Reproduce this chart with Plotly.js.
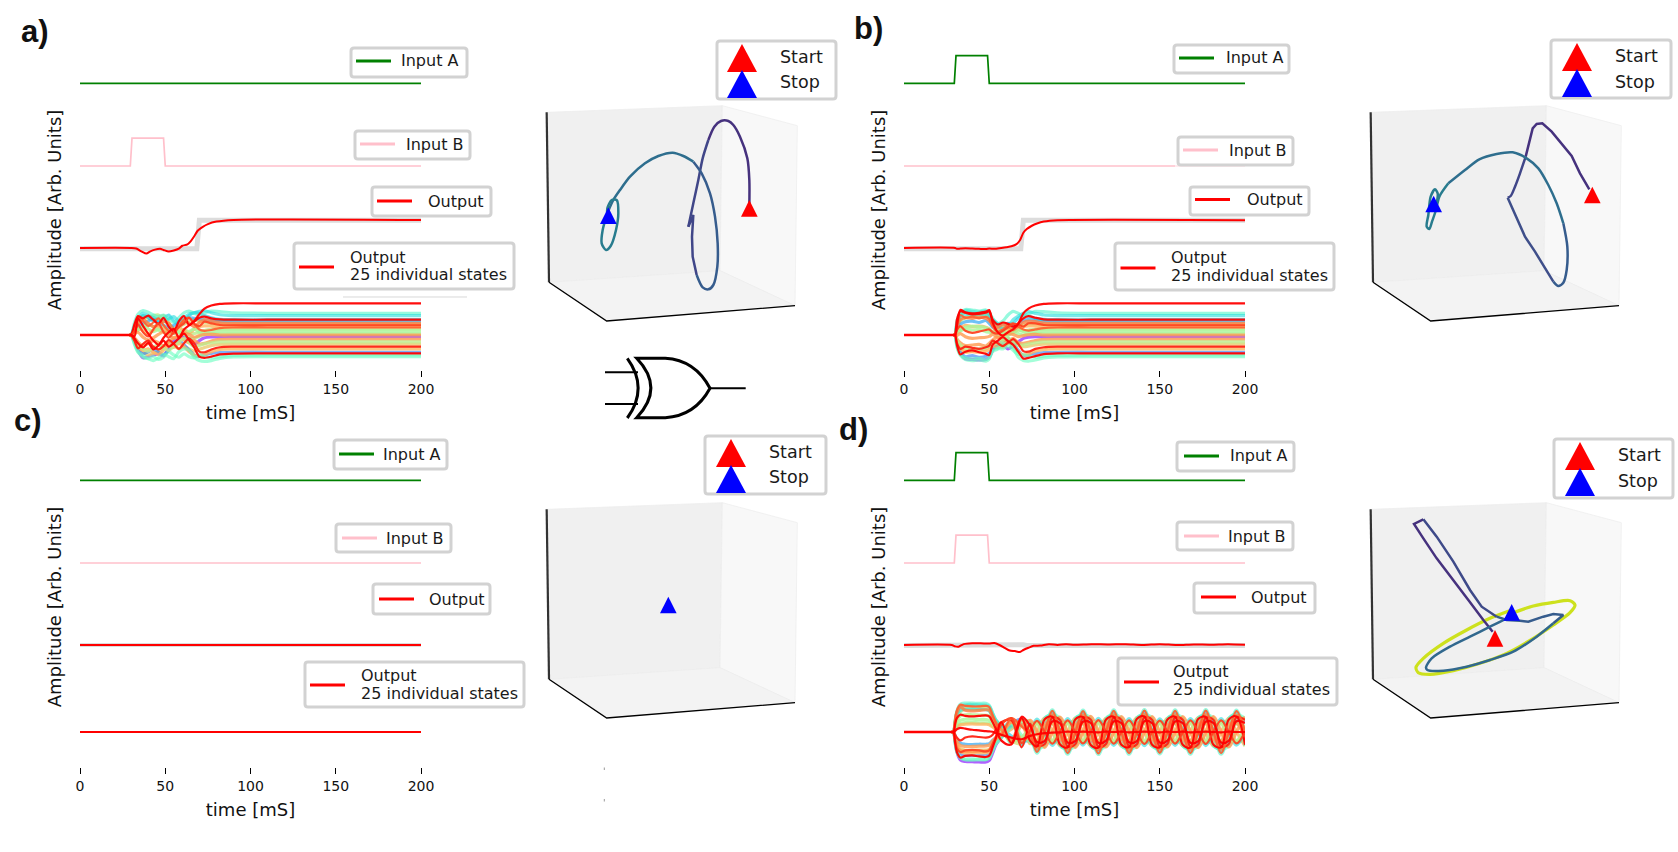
<!DOCTYPE html>
<html><head><meta charset="utf-8">
<script src="https://cdn.plot.ly/plotly-3.0.1.min.js"></script>
<style>html,body{margin:0;padding:0;background:#fff}</style></head>
<body><div id="chart" style="width:1678px;height:852px"></div>
<script>
// ---------- time grids ----------
const pulseT=[0,29.5,30.5,49,50,200];
const pulseOn=[0,0,1,1,0,0];
const flatT=[0,200];
const flatV=[0,0];
const outAT=[0,30,33,36,39,41,44,47,49,52,55,58,60,63,65,67,69,72,75,80,90,200];
const outAV=[0,0,-.02,-.12,-.2,-.13,-.06,-.03,-.07,-.13,-.09,-.02,.08,.13,.25,.42,.62,.76,.86,.95,1.01,1.01];
const outBT=[0,30,31,33,36,40,44,48,50,53,56,60,63,66,68,70,72,75,78,82,90,200];
const outBV=[0,0,-.03,-.02,-.01,-.02,-.03,-.04,-.02,-.03,-.01,.03,.06,.14,.28,.55,.68,.8,.88,.95,1,1];
const outDT=[0,28,30,32,35,40,45,50,53,56,59,62,65,68,70,73,76,80,85,90,95,100,110,120,130,140,150,160,170,180,190,200];
const outDV=[0,0,-.05,-.06,.03,.06,.06,.05,.07,0,-.1,-.2,-.22,-.25,-.18,-.1,-.03,-.02,.03,0,.03,.01,.03,.02,.03,0,.03,0,.02,.01,.03,.01];
const targetHighT=[0,30,68.5,70,200];
const targetHighV=[-.03,-.03,-.03,1,1];
const targetLowT=[0,30,50,70,72,200];
const targetLowV=[0,.03,.03,.03,0,0];

const stateTA=[29,30,32,34,37,40,43,46,49,52,55,58,61,64,67,70,73,77,82,90,110,200];
const stateA00=[0,0,-.2,-.55,-.82,-.78,-.72,-.68,-.75,-.5,-.2,-.1,-.05,-.25,-.35,-.2,-.1,-.07,-.06,-.06,-.06,-.06];
const stateA01=[0,0,.2,.4,.58,.64,.7,.72,.52,.4,.25,.15,.2,.1,.05,.1,.16,.2,.22,.22,.22,.22];
const stateA02=[0,0,-.18,-.4,-.6,-.72,-.66,-.6,-.45,-.3,-.38,-.5,-.42,-.5,-.58,-.52,-.45,-.38,-.34,-.33,-.33,-.33];
const stateA03=[0,0,.22,.5,.68,.6,.55,.62,.7,.45,.2,.3,.38,.5,.55,.5,.46,.42,.39,.38,.38,.38];
const stateA04=[0,0,.15,.3,.42,.5,.58,.45,.35,.25,.35,.48,.55,.62,.6,.58,.55,.52,.5,.5,.5,.5];
const stateA05=[0,0,-.25,-.5,-.68,-.6,-.52,-.62,-.7,-.55,-.3,-.2,-.35,-.55,-.72,-.78,-.72,-.66,-.63,-.62,-.62,-.62];
const stateA06=[0,0,.1,.18,.3,.22,.12,.2,.28,.15,.05,.1,.02,-.1,-.12,-.05,.02,.05,.05,.05,.05,.05];
const stateA07=[0,0,.3,.55,.7,.64,.5,.46,.6,.72,.5,.35,.48,.7,.8,.78,.7,.62,.56,.55,.55,.55];
const stateA08=[0,0,-.2,-.42,-.55,-.5,-.62,-.7,-.55,-.38,-.45,-.3,-.42,-.6,-.72,-.76,-.7,-.6,-.52,-.5,-.5,-.5];
const stateA09=[0,0,.12,.25,.15,.05,.18,.3,.22,.1,.18,.28,.15,.08,.2,.3,.33,.32,.3,.3,.3,.3];
const stateA10=[0,0,.45,.75,.88,.82,.72,.66,.72,.6,.45,.62,.8,.86,.78,.72,.8,.86,.84,.8,.78,.78];
const stateA11=[0,0,-.3,-.6,-.8,-.84,-.78,-.88,-.8,-.6,-.72,-.8,-.68,-.78,-.82,-.7,-.78,-.82,-.78,-.73,-.72,-.72];
const stateA12=[0,0,.32,.58,.78,.7,.62,.55,.48,.58,.66,.5,.62,.76,.8,.85,.88,.8,.73,.7,.7,.7];
const stateA13=[0,0,-.35,-.62,-.75,-.86,-.92,-.82,-.7,-.78,-.85,-.6,-.5,-.55,-.8,-.92,-.95,-.92,-.84,-.79,-.78,-.78];
const stateA14=[0,0,.08,.2,.3,.38,.3,.18,.12,.05,.2,.1,.02,.12,.22,.1,.08,.12,.15,.15,.15,.15];
const stateA15=[0,0,-.1,-.25,-.4,-.3,-.2,-.28,-.38,-.25,-.1,-.05,-.18,-.28,-.2,-.32,-.3,-.22,-.16,-.15,-.15,-.15];
const stateA16=[0,0,-.15,-.32,-.5,-.58,-.45,-.35,-.48,-.55,-.4,-.25,-.12,-.28,-.42,-.38,-.32,-.28,-.25,-.25,-.25,-.25];
const stateA17=[0,0,.05,.1,-.08,-.18,-.1,.02,.12,.02,-.12,-.05,.08,.02,-.08,-.02,.02,.02,0,0,0,0];
const stateA18=[0,0,.2,.42,.55,.42,.3,.38,.5,.42,.2,.32,.52,.42,.3,.45,.55,.5,.44,.42,.42,.42];
const stateA19=[0,0,-.22,-.48,-.32,-.2,-.42,-.52,-.4,-.18,-.32,-.5,-.3,-.12,-.3,-.6,-.62,-.52,-.44,-.42,-.42,-.42];
const stateA20=[0,0,.25,.65,.5,.32,.45,.6,.35,.15,.05,.3,.55,.62,.4,.2,.15,.18,.25,.27,.27,.27];
const stateA21=[0,0,.4,.68,.6,.7,.55,.4,.62,.3,.12,.5,.68,.35,.48,.62,.66,.6,.56,.55,.55,.55];
const stateA22=[0,0,.15,.38,.1,-.05,.2,.42,.1,-.1,.1,.28,.42,.62,.4,.32,.48,.42,.36,.35,.35,.35];
const stateA23=[0,0,-.12,-.3,-.45,-.28,-.52,-.38,-.2,-.42,-.3,-.12,.05,-.18,-.45,-.78,-.82,-.78,-.7,-.67,-.66,-.66];
const stateA24=[0,0,-.05,.6,.32,.05,-.2,-.35,-.1,.1,.22,-.1,.2,.35,.5,.75,.95,1.06,1.12,1.14,1.14,1.14];

const stateTB=[29,30,31,33,36,40,44,48,50,52,55,58,61,64,67,70,73,77,82,90,110,200];
const stateB00=[0,0,-.3,-.65,-.86,-.88,-.9,-.88,-.8,-.55,-.25,-.35,-.5,-.4,-.25,-.12,-.08,-.06,-.06,-.06,-.06,-.06];
const stateB01=[0,0,.25,.5,.62,.7,.68,.72,.6,.4,.2,.1,.05,.12,.18,.15,.18,.2,.22,.22,.22,.22];
const stateB02=[0,0,-.2,-.45,-.62,-.58,-.55,-.5,-.42,-.3,-.38,-.45,-.3,-.2,-.3,-.42,-.4,-.36,-.33,-.33,-.33,-.33];
const stateB03=[0,0,.4,.7,.82,.78,.74,.8,.7,.5,.25,.1,.2,.3,.32,.35,.4,.4,.38,.38,.38,.38];
const stateB04=[0,0,.2,.38,.48,.5,.45,.52,.42,.28,.2,.34,.42,.3,.38,.52,.55,.53,.5,.5,.5,.5];
const stateB05=[0,0,-.32,-.6,-.78,-.74,-.8,-.76,-.65,-.52,-.38,-.22,-.12,-.3,-.55,-.75,-.72,-.66,-.63,-.62,-.62,-.62];
const stateB06=[0,0,.08,.15,.22,.18,.2,.12,.1,.08,.02,-.08,-.02,.1,.05,0,.03,.05,.05,.05,.05,.05];
const stateB07=[0,0,.4,.72,.88,.85,.82,.86,.74,.55,.42,.28,.38,.42,.6,.7,.68,.6,.56,.55,.55,.55];
const stateB08=[0,0,-.25,-.5,-.58,-.6,-.62,-.58,-.52,-.4,-.45,-.32,-.28,-.4,-.6,-.72,-.68,-.58,-.52,-.5,-.5,-.5];
const stateB09=[0,0,.12,.25,.35,.3,.32,.28,.22,.12,.2,.3,.22,.12,.2,.3,.33,.32,.3,.3,.3,.3];
const stateB10=[0,0,.5,.78,.92,.9,.86,.9,.82,.6,.4,.5,.72,.85,.78,.68,.76,.85,.84,.8,.78,.78];
const stateB11=[0,0,-.4,-.72,-.88,-.92,-.9,-.94,-.86,-.55,-.48,-.5,-.4,-.55,-.7,-.7,-.76,-.8,-.76,-.73,-.72,-.72];
const stateB12=[0,0,.35,.62,.72,.76,.74,.7,.62,.5,.35,.22,.32,.55,.68,.78,.84,.78,.72,.7,.7,.7];
const stateB13=[0,0,-.42,-.7,-.82,-.86,-.84,-.88,-.8,-.6,-.5,-.3,-.22,-.45,-.8,-.92,-.94,-.9,-.82,-.79,-.78,-.78];
const stateB14=[0,0,.1,.18,.28,.32,.3,.26,.2,.1,.14,.06,.02,.1,.18,.12,.1,.12,.15,.15,.15,.15];
const stateB15=[0,0,-.14,-.28,-.38,-.36,-.34,-.4,-.3,-.18,-.08,-.16,-.24,-.12,-.28,-.3,-.26,-.2,-.16,-.15,-.15,-.15];
const stateB16=[0,0,-.18,-.35,-.48,-.52,-.5,-.46,-.38,-.25,-.32,-.18,-.1,-.25,-.38,-.36,-.32,-.28,-.25,-.25,-.25,-.25];
const stateB17=[0,0,-.02,.05,-.06,-.12,-.1,-.08,-.05,.02,-.08,-.02,.05,.02,-.06,-.02,.01,.02,0,0,0,0];
const stateB18=[0,0,.3,.55,.62,.6,.64,.6,.52,.38,.28,.4,.32,.18,.32,.45,.5,.48,.43,.42,.42,.42];
const stateB19=[0,0,-.28,-.5,-.42,-.46,-.5,-.44,-.38,-.2,-.3,-.4,-.28,-.15,-.32,-.58,-.6,-.5,-.44,-.42,-.42,-.42];
const stateB20=[0,0,.35,.72,.62,.66,.6,.65,.58,.3,.12,.2,.35,.42,.3,.2,.16,.2,.25,.27,.27,.27];
const stateB21=[0,0,.55,.85,.8,.74,.76,.8,.85,.55,.38,.45,.4,.3,.42,.6,.68,.62,.56,.55,.55,.55];
const stateB22=[0,0,.18,.32,.15,.08,.12,.18,.2,.1,.05,.15,.28,.4,.38,.3,.42,.42,.36,.35,.35,.35];
const stateB23=[0,0,-.35,-.7,-.6,-.55,-.62,-.68,-.72,-.35,-.2,-.08,-.22,-.35,-.6,-.85,-.82,-.76,-.69,-.66,-.66,-.66];
const stateB24=[0,0,.3,.9,.82,.78,.8,.84,.9,.45,.1,-.02,.1,.2,.4,.78,.95,1.06,1.12,1.14,1.14,1.14];

const stateTD=[28,29,30,31,33,36,40,44,48,50,52,54,57,63,69,74,78,82.5,87,91.5,96,100.5,105,109.5,114,118.5,123,127.5,132,136.5,141,145.5,150,154.5,159,163.5,168,172.5,177,181.5,186,190.5,195,200];
const stateD00=[0,0,-.35,-.7,-1,-1.06,-1.07,-1.08,-1.08,-1.02,-.75,-.45,-.2,.2,.35,-.25,-.4,.33,.4,-.32,-.41,.33,.4,-.33,-.39,.34,.41,-.33,-.4,.32,.4,-.33,-.41,.33,.39,-.34,-.4,.33,.41,-.32,-.4,.33,.4,-.32];
const stateD01=[0,0,.25,.5,.72,.85,.85,.84,.84,.8,.55,.3,.1,-.25,-.3,-.22,.34,.29,-.35,-.28,.35,.3,-.34,-.29,.36,.29,-.35,-.3,.34,.28,-.36,-.29,.35,.3,-.35,-.29,.34,.28,-.35,-.3,.36,.29,-.35,-.28];
const stateD02=[0,0,-.2,-.45,-.6,-.66,-.66,-.65,-.65,-.62,-.42,-.3,-.12,.25,.38,-.1,-.52,.02,.55,-.01,-.55,.02,.54,0,-.56,-.02,.55,.01,-.55,.02,.56,0,-.54,-.01,.55,.02,-.55,0,.56,-.02,-.55,.01,.54,.01];
const stateD03=[0,0,.3,.6,.88,.95,.95,.94,.93,.88,.6,.4,.2,-.3,-.42,.3,-.5,-.45,.54,.44,-.54,-.45,.53,.46,-.55,-.44,.54,.45,-.53,-.46,.55,.45,-.54,-.44,.54,.45,-.55,-.46,.53,.45,-.54,-.44,.55,.45];
const stateD04=[0,0,-.12,-.28,-.4,-.44,-.45,-.44,-.44,-.42,-.3,-.2,-.1,.2,.3,-.1,-.68,.02,.72,-.02,-.72,.01,.71,-.02,-.73,.02,.72,0,-.72,-.01,.73,.02,-.71,-.02,.72,.01,-.72,-.02,.73,.02,-.72,0,.71,-.02];
const stateD05=[0,0,-.3,-.55,-.78,-.84,-.85,-.84,-.85,-.8,-.55,-.35,-.15,.3,.45,.25,-.44,-.38,.46,.37,-.46,-.38,.45,.39,-.47,-.37,.46,.38,-.45,-.39,.47,.38,-.46,-.37,.46,.38,-.47,-.39,.45,.38,-.46,-.37,.47,.38];
const stateD06=[0,0,.1,.22,.3,.34,.34,.33,.33,.31,.22,.15,.05,.3,-.2,.05,.33,0,-.35,.01,.35,-.01,-.34,0,.36,.01,-.35,0,.35,-.01,-.36,0,.34,.01,-.35,-.01,.35,0,-.36,.01,.35,0,-.34,0];
const stateD07=[0,0,.35,.7,.92,.98,.99,.98,.97,.92,.66,.42,.2,-.15,-.3,-.35,-.55,.49,.58,-.48,-.58,.49,.57,-.5,-.59,.48,.58,-.49,-.57,.5,.59,-.49,-.58,.48,.58,-.49,-.59,.5,.57,-.49,-.58,.48,.59,-.49];
const stateD08=[0,0,-.25,-.5,-.7,-.76,-.76,-.75,-.75,-.72,-.5,-.3,-.1,.1,.4,-.42,0,.5,.01,-.48,-.01,.5,0,-.5,.01,.49,-.01,-.5,0,.51,.01,-.5,-.01,.49,0,-.5,.01,.51,-.01,-.5,0,.49,.01,-.5];
const stateD09=[0,0,.08,.18,.26,.28,.29,.28,.28,.26,.18,.1,.3,-.4,.2,-.32,-.47,.42,.5,-.41,-.5,.42,.49,-.43,-.51,.41,.5,-.42,-.49,.43,.51,-.42,-.5,.41,.5,-.42,-.51,.43,.49,-.42,-.5,.41,.51,-.42];
const stateD10=[0,0,.4,.75,1,1.04,1.04,1.03,1.03,.96,.68,.42,.25,-.4,.3,-.1,-.76,.02,.8,-.01,-.8,0,.79,.02,-.81,-.01,.8,.01,-.8,0,.81,-.02,-.79,.01,.8,0,-.8,.02,.81,-.01,-.8,0,.79,.01];
const stateD11=[0,0,-.38,-.7,-.92,-.98,-.98,-.97,-.98,-.92,-.65,-.42,-.22,.18,.42,.35,-.56,-.5,.6,.49,-.6,-.5,.59,.51,-.61,-.49,.6,.5,-.59,-.51,.61,.5,-.6,-.49,.6,.5,-.61,-.51,.59,.5,-.6,-.49,.61,.5];
const stateD12=[0,0,.32,.62,.78,.82,.82,.81,.8,.75,.52,.3,.12,.38,-.45,.05,.46,.02,-.48,-.01,.48,0,-.47,.02,.49,-.01,-.48,.01,.48,0,-.49,-.02,.47,.01,-.48,0,.48,.02,-.49,-.01,.48,0,-.47,.01];
const stateD13=[0,0,-.4,-.72,-.94,-1,-1.01,-1,-1,-.94,-.68,-.42,-.22,.32,-.12,-.35,-.56,.5,.6,-.49,-.6,.5,.59,-.51,-.61,.49,.6,-.5,-.59,.51,.61,-.5,-.6,.49,.6,-.5,-.61,.51,.59,-.5,-.6,.49,.61,-.5];
const stateD14=[0,0,.15,.3,.42,.46,.46,.45,.45,.42,.3,.18,.08,-.35,.4,-.05,-.29,0,.3,.01,-.3,-.01,.29,0,-.31,.01,.3,0,-.3,-.01,.31,0,-.29,.01,.3,-.01,-.3,0,.31,.01,-.3,0,.29,0];
const stateD15=[0,0,-.18,-.34,-.48,-.52,-.52,-.51,-.5,-.47,-.32,-.2,-.08,.35,.25,.42,.01,-.55,0,.54,-.01,-.55,.01,.56,0,-.54,-.01,.55,.01,-.56,0,.55,-.01,-.54,0,.55,.01,-.56,-.01,.55,0,-.54,.01,.55];
const stateD16=[0,0,.22,.42,.58,.62,.62,.61,.6,.57,.4,.22,.1,-.32,-.2,.18,.3,-.26,-.31,.25,.31,-.26,-.3,.27,.32,-.25,-.31,.26,.3,-.27,-.32,.26,.31,-.25,-.31,.26,.32,-.27,-.3,.26,.31,-.25,-.32,.26];
const stateD17=[0,0,-.28,-.52,-.66,-.7,-.7,-.69,-.69,-.65,-.45,-.25,-.1,.38,-.3,-.18,-.3,.26,.31,-.25,-.31,.26,.3,-.27,-.32,.25,.31,-.26,-.3,.27,.32,-.26,-.31,.25,.31,-.26,-.32,.27,.3,-.26,-.31,.25,.32,-.26];
const stateD18=[0,0,.38,.7,.9,.78,.76,.78,.8,.78,.55,.32,.1,-.3,.45,-.08,-.58,.02,.62,-.01,-.62,0,.61,.02,-.63,-.01,.62,.01,-.62,0,.63,-.02,-.61,.01,.62,0,-.62,.02,.63,-.01,-.62,0,.61,.01];
const stateD19=[0,0,-.1,-.2,-.3,-.2,-.16,-.18,-.2,-.18,-.1,.1,.35,.42,-.55,.3,-.48,-.44,.52,.43,-.52,-.44,.51,.45,-.53,-.43,.52,.44,-.51,-.45,.53,.44,-.52,-.43,.52,.44,-.53,-.45,.51,.44,-.52,-.43,.53,.44];
const stateD20=[0,0,.42,.78,.98,.94,.92,.92,.94,.9,.6,.3,-.1,.5,.2,-.1,-.72,0,.76,.01,-.76,-.01,.75,0,-.77,.01,.76,0,-.76,-.01,.77,0,-.75,.01,.76,-.01,-.76,0,.77,.01,-.76,0,.75,0];
const stateD21=[0,0,.3,.5,.62,.58,.56,.58,.6,.56,.35,.1,-.3,-.45,.5,-.32,-.52,.46,.55,-.45,-.55,.46,.54,-.47,-.56,.45,.55,-.46,-.54,.47,.56,-.46,-.55,.45,.55,-.46,-.56,.47,.54,-.46,-.55,.45,.56,-.46];
const stateD22=[0,0,-.3,-.58,-.72,-.66,-.64,-.66,-.7,-.66,-.42,-.15,.25,.5,-.4,.05,.4,0,-.42,.01,.42,-.01,-.41,0,.43,.01,-.42,0,.42,-.01,-.43,0,.41,.01,-.42,-.01,.42,0,-.43,.01,.42,0,-.41,0];
const stateD23=[0,0,-.4,-.72,-.92,-.86,-.84,-.88,-.9,-.85,-.55,-.2,.35,-.4,.55,.22,-.36,-.32,.38,.31,-.38,-.32,.37,.33,-.39,-.31,.38,.32,-.37,-.33,.39,.32,-.38,-.31,.38,.32,-.39,-.33,.37,.32,-.38,-.31,.39,.32];
const stateD24=[0,0,.04,.1,.15,.12,.08,.06,.03,.02,.01,-.04,-.1,-.2,-.26,-.14,-.08,-.04,-.02,-.01,.01,0,.01,0,-.01,.01,0,.01,-.01,0,.01,0,-.01,.01,0,.01,-.01,0,.01,0,-.01,.01,0,0];

const statesA=[stateA00,stateA01,stateA02,stateA03,stateA04,stateA05,stateA06,stateA07,stateA08,stateA09,stateA10,stateA11,stateA12,stateA13,stateA14,stateA15,stateA16,stateA17,stateA18,stateA19,stateA20,stateA21,stateA22,stateA23,stateA24];
const statesB=[stateB00,stateB01,stateB02,stateB03,stateB04,stateB05,stateB06,stateB07,stateB08,stateB09,stateB10,stateB11,stateB12,stateB13,stateB14,stateB15,stateB16,stateB17,stateB18,stateB19,stateB20,stateB21,stateB22,stateB23,stateB24];
const statesD=[stateD00,stateD01,stateD02,stateD03,stateD04,stateD05,stateD06,stateD07,stateD08,stateD09,stateD10,stateD11,stateD12,stateD13,stateD14,stateD15,stateD16,stateD17,stateD18,stateD19,stateD20,stateD21,stateD22,stateD23,stateD24];
// rainbow colormap position of each state's colour
const stateHue=[0,15,17,16,5,4,14,7,18,18,10,11,8,11,14,19,15,19,20,23,21,24,22,24,24];

// ---------- state-space trajectories (projected picture coordinates) ----------
const boxLeftX=[80,87,600,607], boxLeftY=[247,757,722,227];
const boxRightX=[607,600,825,832], boxRightY=[227,722,827,287];
const boxFloorX=[87,600,825,260], boxFloorY=[757,722,827,873];
const spineX=[80,87,260,825], spineY=[247,757,873,827];

const trajAX=[688,688,682,660,640,625,603,583,565,548,535,520,505,520,516,518,530,548,565,580,592,593,585,570,545,520,490,458,415,375,330,300,280,262,248,245,258,272,288,295,290,275,262,262];
const trajAY=[530,450,385,320,285,273,273,290,330,385,450,520,590,555,620,680,735,772,778,765,710,640,560,490,430,395,378,368,378,400,440,480,510,550,600,640,660,648,600,550,510,510,535,555];
const trajABreaks=[[0,8,'#46327e','spline'],[8,12,'#404688','spline'],[12,16,'#404688','linear'],[16,25,'#365c8d','spline'],[25,33,'#2e6e8e','spline'],[33,43,'#287c8e','spline']];
const trajBX=[748,720,695,665,635,607,590,578,570,557,540,525,512,503,515,535,555,585,615,640,655,670,680,682,670,650,625,595,560,518,470,418,375,325,298,288,276,268,260,265,272,285,293,290];
const trajBY=[478,430,378,340,305,280,282,295,330,380,430,470,498,503,530,575,620,665,715,755,768,758,720,650,580,520,465,415,385,367,372,388,420,460,500,540,575,597,590,555,500,478,490,520];
const trajBBreaks=[[0,9,'#46327e','linear'],[9,13,'#404688','spline'],[13,19,'#3f4f8a','linear'],[19,24,'#365c8d','spline'],[24,33,'#2e6e8e','spline'],[33,43,'#287c8e','spline']];
const trajDX=[458,430,385,340,290,250,222,250,290,340,390,425,470,500,540,565,610,640,670,
  640,590,520,450,380,310,262,258,275,330,390,450,500,
  520,580,640,690,705,690,640,580,500,420,340,270,235,228,250,310,380,450,515];
const trajDY=[605,570,510,450,385,325,282,268,320,395,480,530,560,570,572,575,560,552,555,
  580,620,665,690,710,722,720,712,685,650,620,590,565,
  548,528,517,512,525,548,585,625,670,700,722,733,728,712,685,640,600,565,540];
const trajDBreaks=[[32,50,'#cde11d','spline'],[0,7,'#46327e','linear'],[7,12,'#3e4a89','linear'],[12,19,'#365c8d','linear'],[19,32,'#31688e','spline']];
const startAX=688,startAY=560,stopAX=265,stopAY=582;
const startBX=757,startBY=520,stopBX=281,stopBY=547;
const stopCX=445,stopCY=550;
const startDX=465,startDY=650,stopDX=515,stopDY=572;

// ---------- texts ----------
const tickVals=[0,50,100,150,200];
const xLabel='time [mS]', yLabel='Amplitude [Arb. Units]';

// ---------- layout helpers ----------
const W=1678,H=852;
const fx=p=>p/W, fy=p=>1-p/H;
const offsetA=9.05,offsetB=6.08,offsetOut=3.13;
const shift=(a,o)=>a.map(v=>v+o);
const rainbow=h=>{
  const x=h/24,r=Math.abs(2*x-.5),g=Math.sin(Math.PI*x),b=Math.cos(Math.PI*x/2);
  const al=h>=21?.95:(h>=14?.82:.62);
  return `rgba(${Math.round(255*Math.min(r,1))},${Math.round(255*g)},${Math.round(255*b)},${al})`;};

const panels=[
 {id:'',  left:80,  top:50,  frame:{l:540,t:95,dx:0,dy:0}},
 {id:'2', left:904, top:50,  frame:{l:1364,t:95,dx:12,dy:0}},
 {id:'3', left:80,  top:447, frame:{l:540,t:492,dx:0,dy:-9}},
 {id:'4', left:904, top:447, frame:{l:1364,t:492,dx:12,dy:-9}},
];
const plotW=341, plotH=320, unit=27.8, baseFromBottom=35;
const layout={width:W,height:H,margin:{l:0,r:0,t:0,b:0},paper_bgcolor:'#fff',plot_bgcolor:'rgba(0,0,0,0)',showlegend:false,shapes:[],annotations:[]};
const data=[];
panels.forEach((p,i)=>{
  const xa='xaxis'+p.id, ya='yaxis'+p.id;
  const bottom=p.top+plotH;
  layout[xa]={domain:[fx(p.left),fx(p.left+plotW)],range:[0,200],anchor:'y'+p.id,showgrid:false,zeroline:false,showline:false,
    ticks:'outside',ticklen:6,tickwidth:1,tickcolor:'#000',tickvals:tickVals,ticktext:tickVals.map(String),tickfont:{family:'DejaVu Sans',size:14,color:'#111'},
    title:{text:xLabel,font:{family:'DejaVu Sans',size:18,color:'#111'},standoff:10}};
  layout[ya]={domain:[fy(bottom),fy(p.top)],range:[-baseFromBottom/unit,(plotH-baseFromBottom)/unit],anchor:'x'+p.id,showgrid:false,zeroline:false,showline:false,
    ticks:'',showticklabels:false,title:{text:yLabel,font:{family:'DejaVu Sans',size:18,color:'#111'},standoff:12}};
  const n=5+i, fxa='xaxis'+n, fya='yaxis'+n, f=p.frame;
  layout[fxa]={domain:[fx(f.l),fx(f.l+270)],range:[60+f.dx,870+f.dx],anchor:'y'+n,visible:false,showgrid:false,zeroline:false};
  layout[fya]={domain:[fy(f.t+235),fy(f.t)],range:[900+f.dy,195+f.dy],anchor:'x'+n,visible:false,showgrid:false,zeroline:false};
  p.xr='x'+p.id; p.yr='y'+p.id; p.fxr='x'+n; p.fyr='y'+n;
  const pane=(xs,ys,c)=>data.push({type:'scatter',mode:'lines',x:xs.map(v=>v+f.dx).concat(xs[0]+f.dx),y:ys.map(v=>v+f.dy).concat(ys[0]+f.dy),fill:'toself',fillcolor:c,line:{color:'#ededed',width:.7},xaxis:p.fxr,yaxis:p.fyr,hoverinfo:'skip'});
  pane(boxLeftX,boxLeftY,'#f0f0f0');pane(boxRightX,boxRightY,'#f8f8f8');pane(boxFloorX,boxFloorY,'#f3f3f3');
  data.push({type:'scatter',mode:'lines',x:spineX.slice(0,2).map(v=>v+f.dx),y:spineY.slice(0,2).map(v=>v+f.dy),line:{color:'#333',width:2.2},xaxis:p.fxr,yaxis:p.fyr,hoverinfo:'skip'});
  data.push({type:'scatter',mode:'lines',x:spineX.slice(1).map(v=>v+f.dx),y:spineY.slice(1).map(v=>v+f.dy),line:{color:'#000',width:1.3},xaxis:p.fxr,yaxis:p.fyr,hoverinfo:'skip'});
});
function sig(p,x,y,color,width,shape,sm){data.push({type:'scatter',mode:'lines',x,y,line:{color,width,shape:shape||'linear',smoothing:sm||.7},xaxis:p.xr,yaxis:p.yr,hoverinfo:'skip'});}
function states(p,t,list,sm){list.forEach((s,i)=>sig(p,t,s,rainbow(stateHue[i]),stateHue[i]>=21?2.2:3.2,'spline',sm));}
function traj(p,xs,ys,breaks,w,colorWidth){breaks.forEach(b=>data.push({type:'scatter',mode:'lines',x:xs.slice(b[0],b[1]+1),y:ys.slice(b[0],b[1]+1),line:{color:b[2],width:(colorWidth&&colorWidth[b[2]])||w,shape:b[3],smoothing:.8},xaxis:p.fxr,yaxis:p.fyr,hoverinfo:'skip'}));}
function tri(p,cx,by,c){const s=25,h=50;data.push({type:'scatter',mode:'lines',x:[cx-s,cx+s,cx,cx-s],y:[by,by,by-h,by],fill:'toself',fillcolor:c,line:{color:c,width:0},xaxis:p.fxr,yaxis:p.fyr,hoverinfo:'skip'});}

const [pa,pb,pc,pd]=panels;
// a
sig(pa,flatT,shift(flatV,offsetA),'#008000',1.7);
sig(pa,pulseT,shift(pulseOn,offsetB),'#ffc0cb',1.7);
sig(pa,targetHighT,shift(targetHighV,offsetOut),'#dcdcdc',5);
sig(pa,outAT,shift(outAV,offsetOut),'#ff0000',2,'spline');
states(pa,stateTA,statesA);
sig(pa,[0,30],[0,0],'#ff0000',2.6);
traj(pa,trajAX,trajAY,trajABreaks,2.5);
tri(pa,startAX,startAY,'#ff0000');tri(pa,stopAX,stopAY,'#0000ff');
// b
sig(pb,pulseT,shift(pulseOn,offsetA),'#008000',1.7);
sig(pb,[0,159],[offsetB,offsetB],'#ffc0cb',1.7);
sig(pb,[159,200],[offsetB,offsetB],'#ffe4e9',1.7);
sig(pb,targetHighT,shift(targetHighV,offsetOut),'#dcdcdc',5);
sig(pb,outBT,shift(outBV,offsetOut),'#ff0000',2,'spline');
states(pb,stateTB,statesB);
sig(pb,[0,30],[0,0],'#ff0000',2.6);
traj(pb,trajBX,trajBY,trajBBreaks,2.5);
tri(pb,startBX,startBY,'#ff0000');tri(pb,stopBX,stopBY,'#0000ff');
// c
sig(pc,flatT,shift(flatV,offsetA),'#008000',1.7);
sig(pc,flatT,shift(flatV,offsetB),'#ffc0cb',1.7);
sig(pc,flatT,shift(flatV,offsetOut),'#dcdcdc',4);
sig(pc,flatT,shift(flatV,offsetOut),'#ff0000',2);
sig(pc,flatT,flatV,'#ff0000',2);
tri(pc,stopCX,stopCY,'#0000ff');
// d
sig(pd,pulseT,shift(pulseOn,offsetA),'#008000',1.7);
sig(pd,pulseT,shift(pulseOn,offsetB),'#ffc0cb',1.7);
sig(pd,targetLowT,shift(targetLowV,offsetOut-.02),'#dcdcdc',5);
sig(pd,outDT,shift(outDV,offsetOut),'#ff0000',2,'spline');
states(pd,stateTD,statesD,1);
sig(pd,[0,30],[0,0],'#ff0000',2.6);
traj(pd,trajDX,trajDY,trajDBreaks,2.5,{'#cde11d':3.2});
tri(pd,startDX,startDY,'#ff0000');tri(pd,stopDX,stopDY,'#0000ff');

// ---------- legends, labels, gate ----------
const P=(x,y)=>`${fx(x).toFixed(5)},${fy(y).toFixed(5)}`;
function addPath(path,line,fill){layout.shapes.push({type:'path',xref:'paper',yref:'paper',path,line,fillcolor:fill||'rgba(0,0,0,0)',layer:'above'});}
function box(x0,y0,x1,y1){const r=3;
  addPath(`M${P(x0+r,y0)}L${P(x1-r,y0)}Q${P(x1,y0)} ${P(x1,y0+r)}L${P(x1,y1-r)}Q${P(x1,y1)} ${P(x1-r,y1)}L${P(x0+r,y1)}Q${P(x0,y1)} ${P(x0,y1-r)}L${P(x0,y0+r)}Q${P(x0,y0)} ${P(x0+r,y0)}Z`,{color:'#d2d2d2',width:3},'rgba(255,255,255,.9)');}
function txt(x,y,text,opt){layout.annotations.push(Object.assign({xref:'paper',yref:'paper',x:fx(x-3),y:fy(y),text,showarrow:false,xanchor:'left',yanchor:'middle',align:'left',font:{family:'DejaVu Sans',size:16,color:'#1a1a1a'}},opt||{}));}
function legLine(x0,y0,x1,y1,lx,ly,color,label,tx){box(x0,y0,x1,y1);addPath(`M${P(lx,ly)}L${P(lx+35,ly)}`,{color,width:3});txt(tx,ly,label);}
function leg2(x0,y0,x1,y1,lx,ly,tx,t1y,t2y){box(x0,y0,x1,y1);addPath(`M${P(lx,ly)}L${P(lx+35,ly)}`,{color:'#ff0000',width:3});txt(tx,t1y,'Output');txt(tx,t2y,'25 individual states');}
const startFont={family:'DejaVu Sans',size:17.5,color:'#1a1a1a'};
function legTri(x0,y0,x1,y1,cx,ry,by,tx,t1,t2){box(x0,y0,x1,y1);
  addPath(`M${P(cx-15,ry+28)}L${P(cx+15,ry+28)}L${P(cx,ry)}Z`,{width:0},'#ff0000');
  addPath(`M${P(cx-15,by+28)}L${P(cx+15,by+28)}L${P(cx,by)}Z`,{width:0},'#0000ff');
  txt(tx,t1,'Start',{font:startFont});txt(tx,t2,'Stop',{font:startFont});}
// panel a
legLine(351,48,467,77,356,61,'#008000','Input A',402);
legLine(355,131,470,159,360,144,'#ffc0cb','Input B',407);
legLine(372,187,491,216,377,201,'#ff0000','Output',429);
leg2(294,243,514,289,299,267,350.5,257,274.5);
addPath(`M${P(343,297)}L${P(467,297)}`,{color:'#d8d8d8',width:1});
legTri(717,41,836,99,742,44,70,781,57,82);
// panel b
legLine(1174,45,1289,73,1179,58,'#008000','Input A',1226.5);
legLine(1178,137,1293,165,1183,150,'#ffc0cb','Input B',1230);
legLine(1190,187,1309,215,1195,199.5,'#ff0000','Output',1248);
leg2(1115,243,1334,290,1120.5,268,1171.5,257.5,275.5);
legTri(1551,40,1671,98,1577,43,69,1616,56,82);
// panel c
legLine(334,440,447,469,339,454,'#008000','Input A',384);
legLine(336,524,451,552,342,538,'#ffc0cb','Input B',387);
legLine(373,584,490,614,379,599,'#ff0000','Output',430);
leg2(305,662,524,707,310,685,362,675,693);
legTri(705,436,826,494,731,439,465,770,452,477);
// panel d
legLine(1177,442,1294,471,1184,456,'#008000','Input A',1231);
legLine(1177,522,1293,550,1184,536,'#ffc0cb','Input B',1228.5);
legLine(1194,583,1315,613,1201,597,'#ff0000','Output',1252);
leg2(1118,658,1337,705,1124,682,1174,671.5,689);
legTri(1554,439,1673,498,1580,442,468,1619,455,481);
// panel letters
const letterFont={family:'Liberation Sans',size:31,color:'#111'};
txt(22,32,'<b>a)</b>',{font:letterFont});
txt(855,28,'<b>b)</b>',{font:letterFont});
txt(15,420,'<b>c)</b>',{font:letterFont});
txt(840,429,'<b>d)</b>',{font:letterFont});
// XOR gate
addPath(`M${P(605,372.3)}L${P(638,372.3)}M${P(605,404)}L${P(638,404)}M${P(710,388.3)}L${P(745.7,388.3)}`,{color:'#000',width:2});
addPath(`M${P(627.3,358.3)}Q${P(649,388)} ${P(627.3,418)}`,{color:'#000',width:3});
addPath(`M${P(636.7,358.3)}L${P(665.3,358.3)}Q${P(695,360)} ${P(710,388.3)}Q${P(695,416)} ${P(665.3,417.7)}L${P(636.7,417.7)}Q${P(665,388)} ${P(636.7,358.3)}Z`,{color:'#000',width:3});
addPath(`M${P(604.3,767.5)}L${P(604.3,770)}M${P(604.3,799)}L${P(604.3,801.5)}`,{color:'#999',width:1});

Plotly.newPlot('chart',data,layout,{displayModeBar:false,staticPlot:true});
</script></body></html>
